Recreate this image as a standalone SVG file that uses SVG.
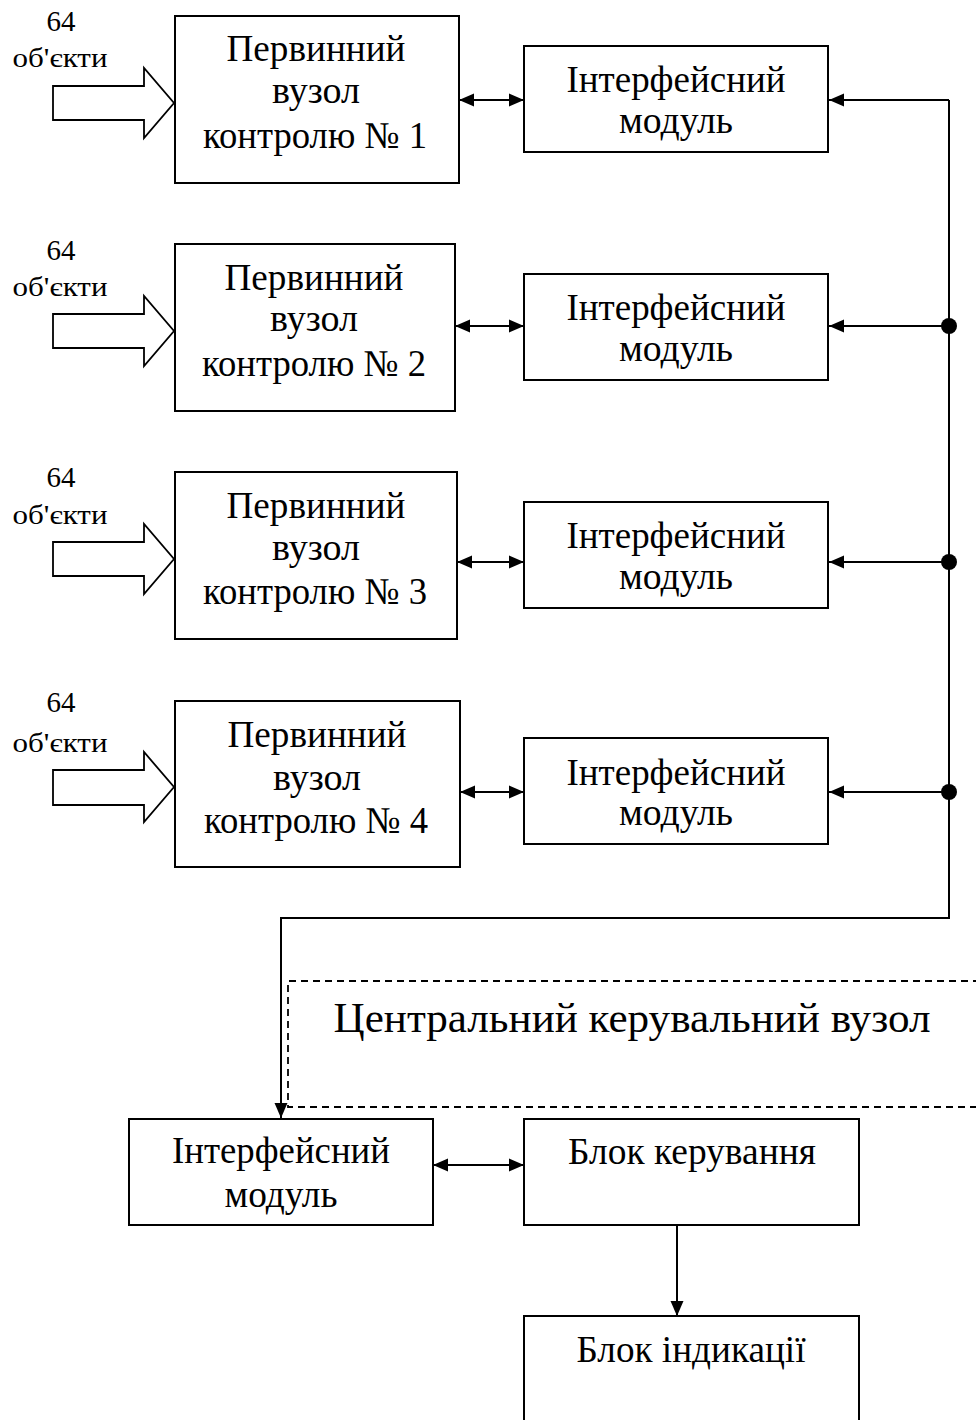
<svg xmlns="http://www.w3.org/2000/svg" width="976" height="1420" viewBox="0 0 976 1420">
<style>
.box{fill:#fff;stroke:#000;stroke-width:2}
.ln{fill:none;stroke:#000;stroke-width:2}
.dash{fill:none;stroke:#000;stroke-width:1.8;stroke-dasharray:7 5}
.in{fill:#fff;stroke:#000;stroke-width:1.8;stroke-linejoin:miter}
text{font-family:"Liberation Serif","Times New Roman",serif;fill:#000;text-anchor:middle}
.t{font-size:38px}
.s{font-size:28px}
.n{font-size:29px}
.c{font-size:43px}
</style>
<defs>
<marker id="ah" markerUnits="userSpaceOnUse" markerWidth="16" markerHeight="14" viewBox="0 0 16 14" refX="15" refY="7" orient="auto-start-reverse">
<path d="M0,0.5 L15,7 L0,13.5 z" fill="#000"/>
</marker>
</defs>

<g id="connectors">
<line class="ln" x1="459" y1="100" x2="524" y2="100" marker-start="url(#ah)" marker-end="url(#ah)"/>
<line class="ln" x1="455" y1="326" x2="524" y2="326" marker-start="url(#ah)" marker-end="url(#ah)"/>
<line class="ln" x1="457" y1="562" x2="524" y2="562" marker-start="url(#ah)" marker-end="url(#ah)"/>
<line class="ln" x1="460" y1="792" x2="524" y2="792" marker-start="url(#ah)" marker-end="url(#ah)"/>
<polyline class="ln" points="949,100 949,918 281,918 281,1118" marker-end="url(#ah)"/>
<line class="ln" x1="949" y1="100" x2="829" y2="100" marker-end="url(#ah)"/>
<line class="ln" x1="949" y1="326" x2="829" y2="326" marker-end="url(#ah)"/>
<line class="ln" x1="949" y1="562" x2="829" y2="562" marker-end="url(#ah)"/>
<line class="ln" x1="949" y1="792" x2="829" y2="792" marker-end="url(#ah)"/>
<circle cx="949" cy="326" r="8" fill="#000"/>
<circle cx="949" cy="562" r="8" fill="#000"/>
<circle cx="949" cy="792" r="8" fill="#000"/>
<line class="ln" x1="433" y1="1165" x2="524" y2="1165" marker-start="url(#ah)" marker-end="url(#ah)"/>
<line class="ln" x1="677" y1="1225" x2="677" y2="1316" marker-end="url(#ah)"/>
</g>

<g id="inputs">
<g id="in1"><polygon class="in" points="53,86 144,86 144,68 174,103 144,138 144,120 53,120"/><text class="n" x="61" y="31">64</text><text class="s" x="60" y="67" textLength="95" lengthAdjust="spacingAndGlyphs">об'єкти</text></g>
<g id="in2"><polygon class="in" points="53,314 144,314 144,296 174,331 144,366 144,348 53,348"/><text class="n" x="61" y="260">64</text><text class="s" x="60" y="296" textLength="95" lengthAdjust="spacingAndGlyphs">об'єкти</text></g>
<g id="in3"><polygon class="in" points="53,542 144,542 144,524 174,559 144,594 144,576 53,576"/><text class="n" x="61" y="487">64</text><text class="s" x="60" y="524" textLength="95" lengthAdjust="spacingAndGlyphs">об'єкти</text></g>
<g id="in4"><polygon class="in" points="53,770 144,770 144,752 174,787 144,822 144,805 53,805"/><text class="n" x="61" y="712">64</text><text class="s" x="60" y="752" textLength="95" lengthAdjust="spacingAndGlyphs">об'єкти</text></g>
</g>

<g id="pvk1"><rect class="box" x="175" y="16" width="284" height="167"/>
<text class="t" x="316" y="61" textLength="179" lengthAdjust="spacingAndGlyphs">Первинний</text>
<text class="t" x="316" y="103">вузол</text>
<text class="t" x="315" y="148" textLength="224" lengthAdjust="spacingAndGlyphs">контролю № 1</text></g>

<g id="pvk2"><rect class="box" x="175" y="244" width="280" height="167"/>
<text class="t" x="314" y="290" textLength="179" lengthAdjust="spacingAndGlyphs">Первинний</text>
<text class="t" x="314" y="331">вузол</text>
<text class="t" x="314" y="376" textLength="224" lengthAdjust="spacingAndGlyphs">контролю № 2</text></g>

<g id="pvk3"><rect class="box" x="175" y="472" width="282" height="167"/>
<text class="t" x="316" y="518" textLength="179" lengthAdjust="spacingAndGlyphs">Первинний</text>
<text class="t" x="316" y="560">вузол</text>
<text class="t" x="315" y="604" textLength="224" lengthAdjust="spacingAndGlyphs">контролю № 3</text></g>

<g id="pvk4"><rect class="box" x="175" y="701" width="285" height="166"/>
<text class="t" x="317" y="747" textLength="179" lengthAdjust="spacingAndGlyphs">Первинний</text>
<text class="t" x="317" y="790">вузол</text>
<text class="t" x="316" y="833" textLength="224" lengthAdjust="spacingAndGlyphs">контролю № 4</text></g>

<g id="im1"><rect class="box" x="524" y="46" width="304" height="106"/>
<text class="t" x="676" y="92" textLength="219" lengthAdjust="spacingAndGlyphs">Інтерфейсний</text>
<text class="t" x="676" y="133" textLength="114" lengthAdjust="spacingAndGlyphs">модуль</text></g>

<g id="im2"><rect class="box" x="524" y="274" width="304" height="106"/>
<text class="t" x="676" y="320" textLength="219" lengthAdjust="spacingAndGlyphs">Інтерфейсний</text>
<text class="t" x="676" y="361" textLength="114" lengthAdjust="spacingAndGlyphs">модуль</text></g>

<g id="im3"><rect class="box" x="524" y="502" width="304" height="106"/>
<text class="t" x="676" y="548" textLength="219" lengthAdjust="spacingAndGlyphs">Інтерфейсний</text>
<text class="t" x="676" y="589" textLength="114" lengthAdjust="spacingAndGlyphs">модуль</text></g>

<g id="im4"><rect class="box" x="524" y="738" width="304" height="106"/>
<text class="t" x="676" y="785" textLength="219" lengthAdjust="spacingAndGlyphs">Інтерфейсний</text>
<text class="t" x="676" y="825" textLength="114" lengthAdjust="spacingAndGlyphs">модуль</text></g>

<g id="central">
<path class="dash" d="M980,981 H288 V1107 H980"/>
<text class="c" x="632" y="1032" textLength="597" lengthAdjust="spacingAndGlyphs">Центральний керувальний вузол</text>
</g>

<g id="im5"><rect class="box" x="129" y="1119" width="304" height="106"/>
<text class="t" x="281" y="1163" textLength="218" lengthAdjust="spacingAndGlyphs">Інтерфейсний</text>
<text class="t" x="281" y="1207" textLength="113" lengthAdjust="spacingAndGlyphs">модуль</text></g>

<g id="bk"><rect class="box" x="524" y="1119" width="335" height="106"/>
<text class="t" x="692" y="1164" textLength="248" lengthAdjust="spacingAndGlyphs">Блок керування</text></g>

<g id="bi"><rect class="box" x="524" y="1316" width="335" height="110"/>
<text class="t" x="691" y="1362" textLength="229" lengthAdjust="spacingAndGlyphs">Блок індикації</text></g>
</svg>
